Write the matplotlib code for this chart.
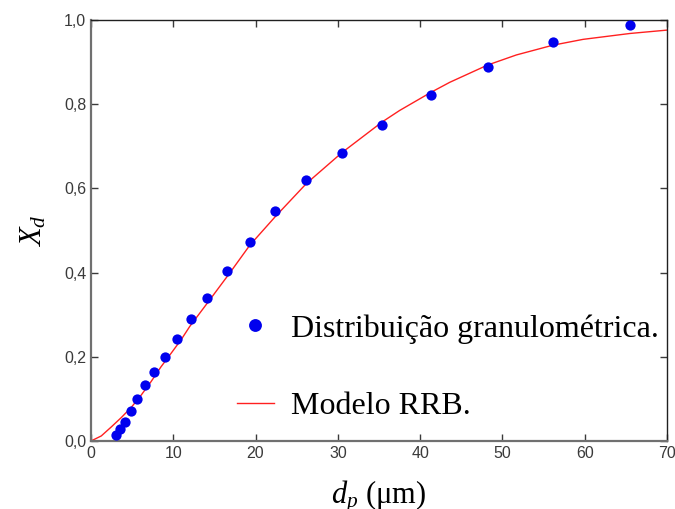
import numpy as np
import matplotlib
matplotlib.use("Agg")
import matplotlib.pyplot as plt

plt.rcParams['mathtext.fontset'] = 'custom'
plt.rcParams['mathtext.rm'] = 'Liberation Serif'
plt.rcParams['mathtext.it'] = 'Liberation Serif:italic'

dp_data = [3.0, 3.5, 4.1, 4.9, 5.6, 6.6, 7.6, 9.0, 10.4, 12.2, 14.1, 16.5,
           19.3, 22.4, 26.1, 30.5, 35.4, 41.3, 48.2, 56.1, 65.5]
xd_data = [0.014, 0.028, 0.046, 0.072, 0.100, 0.134, 0.164, 0.200, 0.242,
           0.289, 0.340, 0.403, 0.473, 0.546, 0.619, 0.685, 0.750, 0.821,
           0.888, 0.947, 0.987]

# RRB model curve
dp_model = [0, 1.25, 2.5, 3.7, 4.9, 6.1, 7.3, 8.5, 9.8, 11.0, 12.0, 14.5,
            16.9, 19.3, 22.4, 26.2, 30.5, 35.4, 37.5, 41.3, 43.6, 48.2,
            51.7, 56.1, 59.8, 65.5, 70]
xd_model = [0, 0.012, 0.034, 0.056, 0.080, 0.109, 0.141, 0.176, 0.210,
            0.242, 0.272, 0.337, 0.400, 0.465, 0.533, 0.612, 0.685, 0.758,
            0.785, 0.828, 0.852, 0.893, 0.917, 0.940, 0.954, 0.968, 0.976]

xticks = [0, 10, 20, 30, 40, 50, 60, 70]
yticks = [0.0, 0.2, 0.4, 0.6, 0.8, 1.0]
ytick_labels = ['0,0', '0,2', '0,4', '0,6', '0,8', '1,0']

fig = plt.figure(figsize=(6.75, 5.09), dpi=100)
ax = fig.add_axes([0.1348, 0.1336, 0.8533, 0.8271])

ax.plot(dp_data, xd_data, 'o', color='#0000ee', markersize=7.4,
        markeredgewidth=0, label='Distribuição granulométrica.', zorder=3)
ax.plot(dp_model, xd_model, '-', color='#ff2020', lw=1.0, label='Modelo RRB.')

ax.set_xlim(0, 70)
ax.set_ylim(0, 1)
ax.set_xticks(xticks)
ax.set_yticks(yticks)
ax.set_yticklabels(ytick_labels)
ax.tick_params(direction='in', length=5, width=1, labelsize=11.5,
               labelcolor='#3a3a3a', colors='#3a3a3a', top=True, right=True,
               labeltop=False, labelright=False)
for lab in ax.get_xticklabels() + ax.get_yticklabels():
    lab.set_family('Liberation Sans')

for s in ['left', 'bottom']:
    ax.spines[s].set_color('#707070')
    ax.spines[s].set_linewidth(1.6)
for s in ['top', 'right']:
    ax.spines[s].set_color('#202020')
    ax.spines[s].set_linewidth(1.0)

ax.set_xlabel(r'$d_p$ (μm)', fontsize=22, family='Liberation Serif')
ax.set_ylabel(r'$X_d$', fontsize=22, family='Liberation Serif')
ax.xaxis.set_label_coords(0.5, -0.09)
ax.yaxis.set_label_coords(-0.073, 0.5)

leg = ax.legend(loc='upper left', bbox_to_anchor=(237 / 675, 1 - 314 / 509),
                bbox_transform=fig.transFigure, frameon=False, borderpad=0,
                borderaxespad=0, handlelength=1.15, handletextpad=0.55,
                labelspacing=1.5, markerscale=1.25,
                prop={'family': 'Liberation Serif', 'size': 23})

fig.savefig('out.png', dpi=100)
